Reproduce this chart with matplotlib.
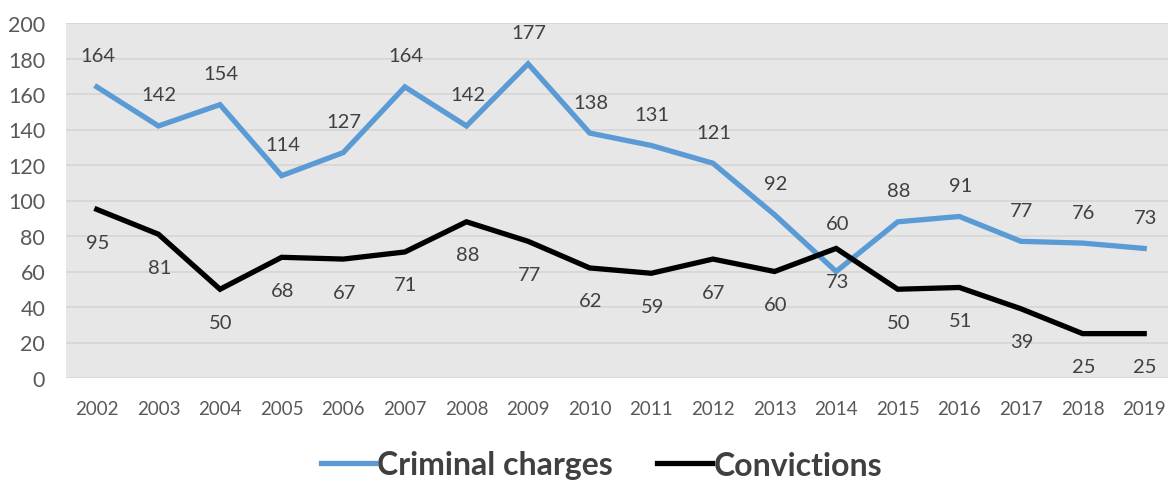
import matplotlib
matplotlib.use("Agg")
import matplotlib.pyplot as plt

# Data
years = [str(y) for y in range(2002, 2020)]
criminal_charges = [164, 142, 154, 114, 127, 164, 142, 177, 138, 131, 121, 92, 60, 88, 91, 77, 76, 73]
convictions = [95, 81, 50, 68, 67, 71, 88, 77, 62, 59, 67, 60, 73, 50, 51, 39, 25, 25]

plt.rcParams['font.family'] = ['Lato', 'DejaVu Sans']

fig = plt.figure(figsize=(11.68, 4.81), dpi=100)
ax = fig.add_axes([66 / 1168, 1 - 379 / 481, (1175 - 66) / 1168, (379 - 24) / 481])
ax.set_facecolor('#e7e7e7')

x = list(range(len(years)))
ax.plot(x, criminal_charges, color='#5b9bd5', lw=3.8, solid_joinstyle='miter', label='Criminal charges', zorder=3)
ax.plot(x, convictions, color='#000000', lw=3.8, solid_joinstyle='miter', label='Convictions', zorder=3)

# data labels: charges above, convictions below (2014 charges label sits higher)
for i, v in enumerate(criminal_charges):
    dy = 48 if years[i] == '2014' else 31
    ax.annotate(str(v), (i, v), xytext=(1, dy), textcoords='offset pixels',
                ha='center', va='center', fontsize=14.5, color='#404040', zorder=4)
for i, v in enumerate(convictions):
    ax.annotate(str(v), (i, v), xytext=(1, -33), textcoords='offset pixels',
                ha='center', va='center', fontsize=14.5, color='#404040', zorder=4)

ax.set_xlim(-0.5, len(years) - 0.5)
ax.set_ylim(0, 200)
ax.set_yticks(range(0, 201, 20))
ax.set_xticks(x)
ax.set_xticklabels(years)
ax.grid(axis='y', color='#d6d6d6', lw=1.2)
ax.set_axisbelow(True)
for s in ax.spines.values():
    s.set_visible(False)
ax.tick_params(axis='y', length=0, pad=15, labelsize=15.5, labelcolor='#595959')
ax.tick_params(axis='x', length=0, pad=16, labelsize=13.5, labelcolor='#595959')

fig.legend(loc='center', bbox_to_anchor=(0.515, 1 - 466 / 481), ncol=2, frameon=False,
           prop={'weight': 'bold', 'size': 23}, labelcolor='#404040',
           handlelength=1.7, handletextpad=0.05, columnspacing=1.4)

fig.savefig('out.png', dpi=100)
